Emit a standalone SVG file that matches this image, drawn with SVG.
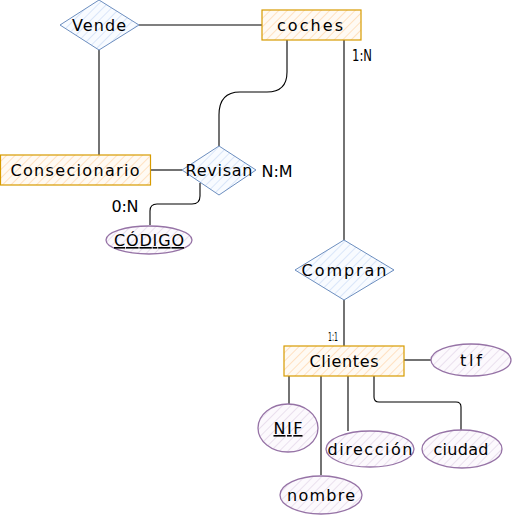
<svg xmlns="http://www.w3.org/2000/svg" width="512" height="516" viewBox="0 0 512 516">
<style>
text{font-family:"DejaVu Sans","Liberation Sans",sans-serif;font-size:16px;fill:#000;text-anchor:middle}
.ent{fill:url(#hOr);stroke:#d79b00;stroke-width:1.2}
.rel{fill:url(#hBl);stroke:#6c8ebf;stroke-width:1}
.att{fill:url(#hPu);stroke:#9673a6;stroke-width:1.3}
.c{fill:none;stroke:#000;stroke-width:1.1}
.u{text-decoration:underline}
</style>
<defs>
<pattern id="hOr" patternUnits="userSpaceOnUse" width="6" height="6" patternTransform="rotate(45)"><rect width="6" height="6" fill="#fffaf3"/><line x1="0" y1="0" x2="0" y2="6" stroke="#ffd9b0" stroke-width="1.5"/></pattern>
<pattern id="hBl" patternUnits="userSpaceOnUse" width="6" height="6" patternTransform="rotate(45)"><rect width="6" height="6" fill="#f8fbff"/><line x1="0" y1="0" x2="0" y2="6" stroke="#d0e0f7" stroke-width="1.5"/></pattern>
<pattern id="hPu" patternUnits="userSpaceOnUse" width="6" height="6" patternTransform="rotate(45)"><rect width="6" height="6" fill="#fcf9fd"/><line x1="0" y1="0" x2="0" y2="6" stroke="#e4d8ea" stroke-width="1.5"/></pattern>
</defs>
<g id="connectors">
<path class="c" d="M139,25 L262,25"/>
<path class="c" d="M99,50 L99,155"/>
<path class="c" d="M287,40 L287,72 Q287,92 267,92 L240,92 Q219,92 219,115 L219,146"/>
<path class="c" d="M150,170 L182,170"/>
<path class="c" d="M200,183 L200,196 Q200,204 192,204 L157,204 Q150,204 150,211 L150,225"/>
<path class="c" d="M344,40 L344,240"/>
<path class="c" d="M344,300 L344,346"/>
<path class="c" d="M404,360 L431,360"/>
<path class="c" d="M289,376 L289,404"/>
<path class="c" d="M321,376 L321,475"/>
<path class="c" d="M348,376 L348,431"/>
<path class="c" d="M374,376 L374,397 Q374,402 379,402 L456,402 Q461,402 461,407 L461,430"/>
</g>
<g id="Vende"><polygon class="rel" points="99,0 139,25 99,50 60,25"/><text x="99" y="31" textLength="54" lengthAdjust="spacing">Vende</text></g>
<g id="coches"><rect class="ent" x="262" y="10" width="99" height="30"/><text x="310" y="31" textLength="66" lengthAdjust="spacing">coches</text></g>
<g id="Consecionario"><rect class="ent" x="0.5" y="155" width="150" height="30"/><text x="75" y="176" textLength="129" lengthAdjust="spacing">Consecionario</text></g>
<g id="Revisan"><polygon class="rel" points="219,146 256,170 219,195 182,170"/><text x="219" y="176" textLength="67" lengthAdjust="spacing">Revisan</text></g>
<g id="CODIGO"><ellipse class="att" cx="149" cy="240" rx="43" ry="14"/><text class="u" x="149" y="246" textLength="70" lengthAdjust="spacing">CÓDIGO</text></g>
<g id="Compran"><polygon class="rel" points="344,240 394,270 344,300 295,270"/><text x="344" y="276" textLength="85" lengthAdjust="spacing">Compran</text></g>
<g id="Clientes"><rect class="ent" x="284" y="346" width="120" height="30"/><text x="344" y="367" textLength="69" lengthAdjust="spacing">Clientes</text></g>
<g id="tlf"><ellipse class="att" cx="471" cy="360" rx="40" ry="16"/><text x="471" y="366" textLength="22" lengthAdjust="spacing">tlf</text></g>
<g id="NIF"><ellipse class="att" cx="288" cy="428" rx="30" ry="24"/><text class="u" x="288" y="434" textLength="29" lengthAdjust="spacing">NIF</text></g>
<g id="direccion"><ellipse class="att" cx="370" cy="449" rx="44" ry="18"/><text x="370" y="455" textLength="85" lengthAdjust="spacing">dirección</text></g>
<g id="ciudad"><ellipse class="att" cx="462" cy="449" rx="40" ry="19"/><text x="461" y="455" textLength="55" lengthAdjust="spacing">ciudad</text></g>
<g id="nombre"><ellipse class="att" cx="321" cy="495" rx="41" ry="19"/><text x="321" y="501" textLength="68" lengthAdjust="spacing">nombre</text></g>
<g id="labels">
<text x="277" y="177" textLength="31" lengthAdjust="spacing">N:M</text>
<text x="125" y="212" textLength="27" lengthAdjust="spacing">0:N</text>
<text x="362" y="61" textLength="20" lengthAdjust="spacingAndGlyphs" style="font-size:15px">1:N</text>
<text x="333" y="341" style="font-size:12px" textLength="10" lengthAdjust="spacingAndGlyphs">1:1</text>
</g>
</svg>
